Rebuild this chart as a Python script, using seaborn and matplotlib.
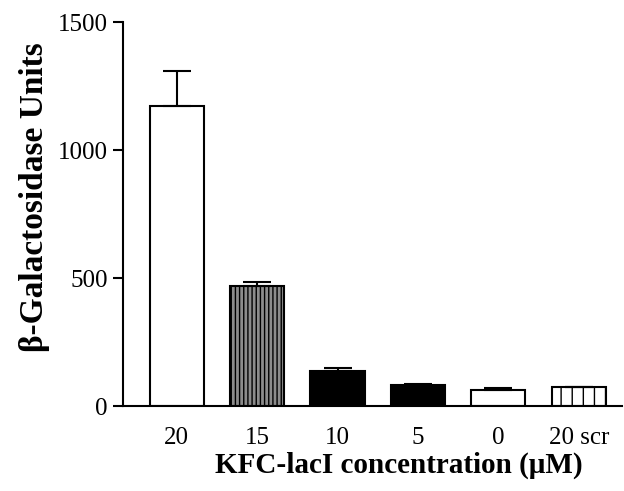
import numpy as np
import pandas as pd
import seaborn as sns
import matplotlib.pyplot as plt

# values
conc = ["20", "15", "10", "5", "0", "20 scr"]
units = [1173, 469, 138, 82, 62, 73]
sem = [135, 16, 9, 3, 7, 3]

fills = ["white", "#8c8c8c", "black", "black", "white", "white"]
hatches = ["", "||||||||", "", "", "-", "|||"]

sns.set_style("ticks")
plt.rcParams["font.family"] = ["Liberation Serif", "DejaVu Serif"]
plt.rcParams["hatch.linewidth"] = 0.5
plt.rcParams["text.color"] = "black"
plt.rcParams["axes.labelcolor"] = "black"

df = pd.DataFrame({"conc": conc, "units": units})

fig = plt.figure(figsize=(3.12, 2.455), dpi=200)
ax = fig.add_axes([0.197, 0.173, 0.80, 0.782])

sns.barplot(data=df, x="conc", y="units", hue="conc", order=conc,
            palette=fills, legend=False, errorbar=None, width=0.675,
            edgecolor="black", linewidth=0.75, ax=ax)
for bar, h in zip(ax.patches, hatches):
    bar.set_hatch(h)

ax.errorbar(np.arange(len(conc)), units, yerr=[np.zeros(len(sem)), sem],
            fmt="none", ecolor="black", elinewidth=0.75, capsize=5,
            capthick=0.75, zorder=1)

ax.set_ylim(0, 1500)
ax.set_xlim(-0.67, 5.54)
ax.set_yticks([0, 500, 1000, 1500])
sns.despine(ax=ax)
for s in ["left", "bottom"]:
    ax.spines[s].set_linewidth(0.75)
    ax.spines[s].set_color("black")
ax.tick_params(axis="y", length=3.6, width=0.75, pad=1.8, labelsize=9, colors="black")
ax.tick_params(axis="x", length=0, pad=7.5, labelsize=9, colors="black")

ax.set_xlabel("KFC-lacI concentration (\u03bcM)", fontsize=10.5, fontweight="bold", color="black")
ax.set_ylabel("\u03b2-Galactosidase Units", fontsize=12, fontweight="bold", color="black")
ax.xaxis.set_label_coords(0.553, -0.118)
ax.yaxis.set_label_coords(-0.146, 0.544)

fig.savefig("out.png", dpi=200)
